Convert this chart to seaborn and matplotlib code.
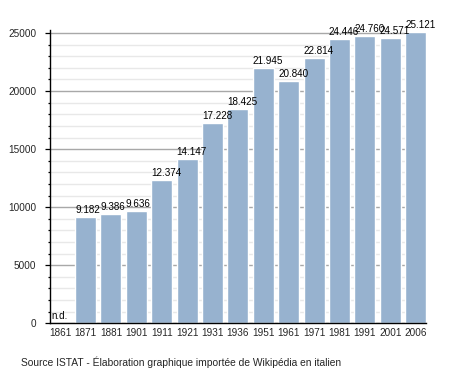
import matplotlib
matplotlib.use("Agg")
import matplotlib.pyplot as plt
from matplotlib.ticker import MultipleLocator
import seaborn as sns
import pandas as pd

years = ["1861", "1871", "1881", "1901", "1911", "1921", "1931", "1936",
         "1951", "1961", "1971", "1981", "1991", "2001", "2006"]
population = [0, 9182, 9386, 9636, 12374, 14147, 17228, 18425,
              21945, 20840, 22814, 24446, 24760, 24571, 25121]
labels = ["n.d.", "9.182", "9.386", "9.636", "12.374", "14.147", "17.228", "18.425",
          "21.945", "20.840", "22.814", "24.446", "24.760", "24.571", "25.121"]
source = "Source ISTAT - Élaboration graphique importée de Wikipédia en italien"

sns.set_style("white")
plt.rcParams["font.family"] = ["Liberation Sans", "DejaVu Sans"]

df = pd.DataFrame({"year": years, "pop": population})

fig = plt.figure(figsize=(4.55, 3.73), dpi=100)
ax = fig.add_axes([50/455, 1 - 323.3/373, 376/455, (323.3 - 30)/373])

sns.barplot(data=df, x="year", y="pop", ax=ax, color="#97B2CF", saturation=1,
            width=0.83, zorder=3)

ax.set_xlim(-0.4, 14.41)
ax.set_ylim(0, 25260)
ax.yaxis.set_major_locator(MultipleLocator(5000))
ax.yaxis.set_minor_locator(MultipleLocator(1000))
ax.grid(which="major", axis="y", color="#A8A8A8", lw=1.0, zorder=0)
ax.grid(which="minor", axis="y", color="#E8E8E8", lw=1.0, zorder=0)
ax.set_axisbelow(True)

for s in ["top", "right"]:
    ax.spines[s].set_visible(False)
for s in ["left", "bottom"]:
    ax.spines[s].set_color("black")
    ax.spines[s].set_linewidth(1.0)
    ax.spines[s].set_zorder(4)

ax.tick_params(axis="y", which="major", direction="out", length=3.5, width=0.9,
               color="black", labelsize=7.2, pad=6.5, left=True)
ax.tick_params(axis="y", which="minor", direction="out", length=1.8, width=0.9,
               color="black", left=True)
ax.tick_params(axis="x", length=0, labelsize=7.2, pad=3.5)
ax.set_xlabel("")
ax.set_ylabel("")

for i, (p, lab) in enumerate(zip(population, labels)):
    ax.annotate(lab, xy=(i - 0.415, p), xytext=(1 if i == 0 else 0, 1.5),
                textcoords="offset points", ha="left", va="bottom",
                fontsize=7.1, color="black", zorder=5, annotation_clip=False)

fig.text(20.7/455, 1 - 362/373, source, ha="left", va="center", fontsize=7.4)

fig.savefig("out.png", dpi=100)
